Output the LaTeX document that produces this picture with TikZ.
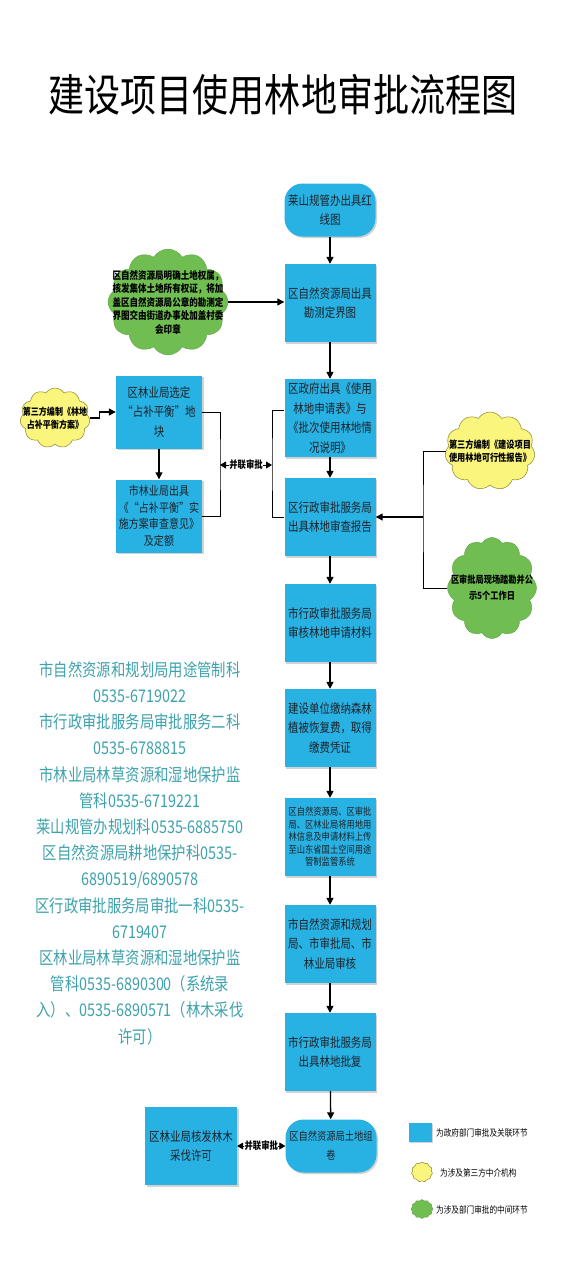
\documentclass[tikz,border=0pt]{standalone}
\usepackage{fontspec}
\setmainfont[FakeStretch=0.82]{Noto Sans CJK SC}
\usepackage{tikz}
\usetikzlibrary{shapes,arrows.meta,positioning,calc,shadows}
\definecolor{boxblue}{RGB}{40, 178, 228}
\definecolor{boxtext}{RGB}{30, 34, 40}
\definecolor{cloudgreen}{RGB}{112, 190, 82}
\definecolor{cloudyellow}{RGB}{250, 245, 125}
\definecolor{cloudline}{RGB}{140, 130, 40}
\definecolor{contactteal}{RGB}{62, 162, 172}

\tikzset{
  box/.style={fill=boxblue, minimum width=91pt, minimum height=78pt, align=center,
    inner sep=1pt, text=boxtext, font=\fontsize{12.8}{19.5}\selectfont,
    drop shadow={shadow xshift=1.5pt, shadow yshift=-1.5pt, opacity=.35}},
  rbox/.style={box, rounded corners=18pt, minimum height=53pt},
  gcloud/.style={cloud, cloud puffs=12, cloud puff arc=120, cloud ignores aspect,
    fill=cloudgreen, draw=cloudgreen!85!black, inner sep=0pt},
  ycloud/.style={cloud, cloud puffs=11, cloud puff arc=115, cloud ignores aspect,
    fill=cloudyellow, draw=cloudline, line width=.5pt, inner sep=0pt},
  ctext/.style={align=center, text=black, font=\bfseries\fontsize{10.4}{13.5}\selectfont},
  arr/.style={->, line width=1.3pt},
  bline/.style={line width=.9pt},
  pair/.style={<->, line width=.8pt, >={Triangle[length=6pt,width=7pt]}},
  plabel/.style={fill=white, inner sep=.5pt, font=\bfseries\fontsize{10.2}{11}\selectfont},
  legtext/.style={font=\fontsize{9.3}{10}\selectfont, inner sep=0pt, anchor=west}
}

\begin{document}
\begin{tikzpicture}[x=1pt, y=-1pt, >={Triangle[length=7pt,width=7pt]}]
    \fill[white] (0,0) rectangle (567,1280);
    \useasboundingbox (0,0) rectangle (567,1280);

    % Title
    \node[font=\fontsize{44}{48}\selectfont] (title) at (283,95) {建设项目使用林地审批流程图};

    % Main column
    \node[rbox] (hongxian) at (330,210) {莱山规管办出具红\\线图};
    \node[box] (kance) at (330,303) {区自然资源局出具\\勘测定界图};
    \node[box] (shenqing) at (330,418) {区政府出具《使用\\林地申请表》与\\《批次使用林地情\\况说明》};
    \node[box] (shencha) at (330,517) {区行政审批服务局\\出具林地审查报告};
    \node[box] (shenhe) at (330,623) {市行政审批服务局\\审核林地申请材料};
    \node[box] (jiaofei) at (330,728) {建设单位缴纳森林\\植被恢复费，取得\\缴费凭证};
    \node[box, font=\fontsize{10.1}{12.5}\selectfont] (xitong) at (330,837) {区自然资源局、区审批\\局、区林业局将用地用\\林信息及申请材料上传\\至山东省国土空间用途\\管制监管系统};
    \node[box] (huishen) at (330,944) {市自然资源和规划\\局、市审批局、市\\林业局审核};
    \node[box] (pifu) at (330,1052) {市行政审批服务局\\出具林地批复};
    \node[rbox, font=\fontsize{11.3}{19}\selectfont] (zujuan) at (331,1146) {区自然资源局土地组\\卷};
    \node[box, minimum width=92pt] (caifa) at (191,1146) {区林业局核发林木\\采伐许可};

    % Left column
    \node[box, minimum width=86pt, minimum height=73pt] (xuanding) at (159,412) {区林业局选定\\“占补平衡”地\\块};
    \node[box, minimum width=86pt, minimum height=73pt, font=\fontsize{12.2}{16.5}\selectfont] (shishi) at (159,516) {市林业局出具\\《“占补平衡”实\\施方案审查意见》\\及定额};

    % Clouds
    \node[gcloud, minimum width=120pt, minimum height=106pt] (quanshu) at (168,302) {};
    \node[ctext] (quanshutext) at (quanshu) {区自然资源局明确土地权属，\\核发集体土地所有权证，将加\\盖区自然资源局公章的勘测定\\界图交由街道办事处加盖村委\\会印章};
    \node[ycloud, minimum width=70pt, minimum height=60pt] (fangan) at (55,418) {};
    \node[ctext, font=\bfseries\fontsize{9.8}{13}\selectfont] (fangantext) at (fangan) {第三方编制《林地\\占补平衡方案》};
    \node[ycloud, minimum width=90pt, minimum height=78pt] (kexing) at (490,451) {};
    \node[ctext, font=\bfseries\fontsize{10}{13}\selectfont] (kexingtext) at (kexing) {第三方编制《建设项目\\使用林地可行性报告》};
    \node[gcloud, minimum width=89pt, minimum height=101pt] (takan) at (492,588) {};
    \node[ctext, font=\bfseries\fontsize{10}{16}\selectfont] (takantext) at (takan) {区审批局现场踏勘并公\\示5个工作日};

    % Main flow arrows
    \foreach \a/\b in {hongxian/kance, kance/shenqing, shenqing/shencha, shencha/shenhe,
        shenhe/jiaofei, jiaofei/xitong, xitong/huishen, huishen/pifu, pifu/zujuan}
        \draw[arr] (\a) -- (\b);
    \draw[arr] (quanshu.east) -- (quanshu.east -| kance.west);
    \draw[arr] (xuanding) -- (shishi);
    \draw[arr] (fangan.east) -- ++(10,0) |- (xuanding.west);

    % Parallel approval bracket
    \coordinate (bleft) at (220,465);
    \coordinate (bright) at (272,465);
    \draw[bline] (xuanding.east) -| (bleft) |- (shishi.east);
    \draw[bline] ($(shenqing.west)+(0,-8)$) -| (bright) |- (shencha.west);
    \draw[pair] (bleft) -- (bright) node[midway, plabel] (bing1) {并联审批};

    % Right side inputs
    \coordinate (rmid) at (423,517);
    \draw[bline] (kexing.west) -| (rmid) |- (takan.west);
    \draw[arr] (rmid) -- (shencha.east);

    % Bottom parallel approval
    \draw[pair] (caifa.east) -- (zujuan.west) node[midway, plabel] (bing2) {并联审批};

    % Contacts
    \node[align=center, text=contactteal, font=\fontsize{17.5}{26.2}\selectfont] (contacts) at (140,853) {市自然资源和规划局用途管制科\\0535-6719022\\市行政审批服务局审批服务二科\\0535-6788815\\市林业局林草资源和湿地保护监\\管科0535-6719221\\莱山规管办规划科0535-6885750\\区自然资源局耕地保护科0535-\\6890519/6890578\\区行政审批服务局审批一科0535-\\6719407\\区林业局林草资源和湿地保护监\\管科0535-6890300（系统录\\入）、0535-6890571（林木采伐\\许可）};

    % Legend
    \node[fill=boxblue, minimum width=23pt, minimum height=19pt, inner sep=0pt,
        drop shadow={shadow xshift=1pt, shadow yshift=-1pt, opacity=.35}] (legbox) at (420.5,1132.5) {};
    \node[legtext] (legboxtext) at (436,1133) {为政府部门审批及关联环节};
    \node[ycloud, minimum width=21pt, minimum height=20pt] (legyellow) at (422,1172) {};
    \node[legtext] (legyellowtext) at (440,1173) {为涉及第三方中介机构};
    \node[gcloud, minimum width=22pt, minimum height=19pt] (leggreen) at (422,1209) {};
    \node[legtext] (leggreentext) at (436,1210) {为涉及部门审批的中间环节};
\end{tikzpicture}
\end{document}
